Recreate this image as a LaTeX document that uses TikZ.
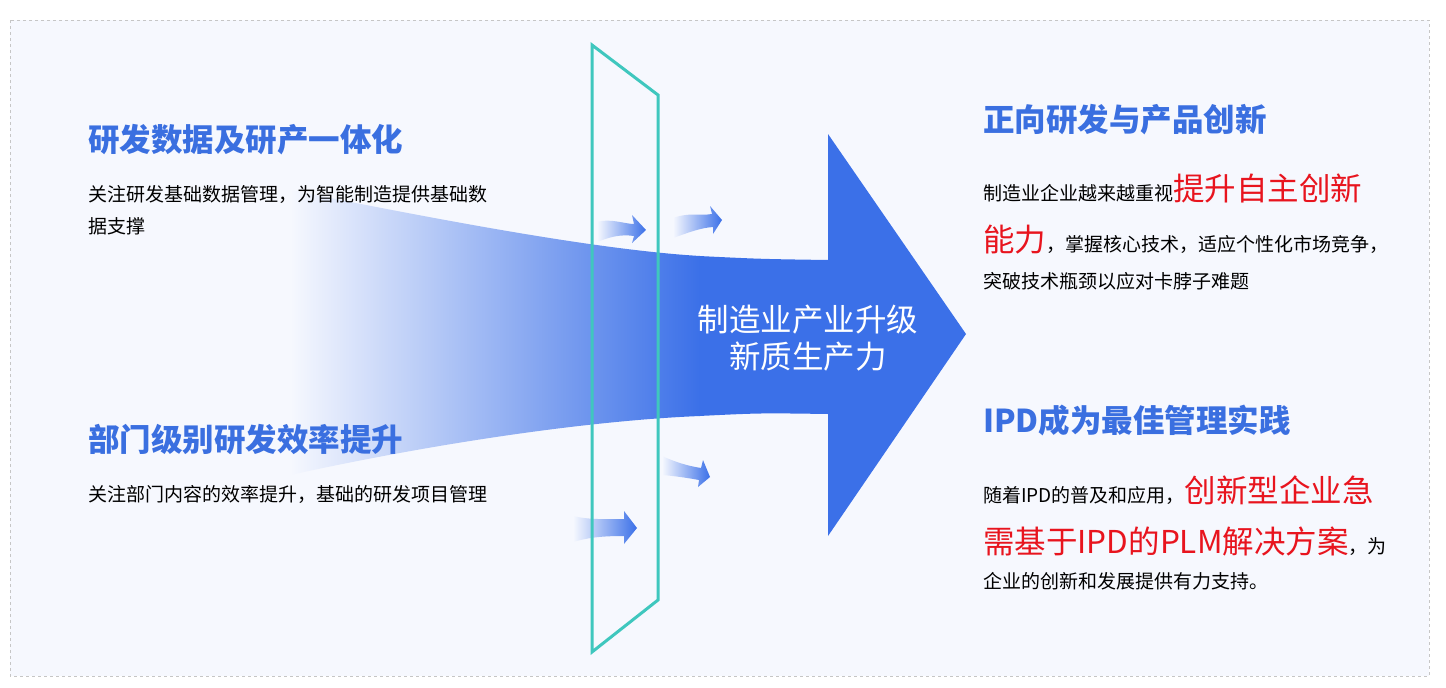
\documentclass[tikz,border=0pt]{standalone}
\usepackage{fontspec}
\setmainfont{Noto Sans CJK SC}
\begin{document}
\definecolor{ablue}{HTML}{3B70E8}
\definecolor{hblue}{HTML}{3A6FE0}
\definecolor{teal}{HTML}{3FC7BE}
\definecolor{tred}{HTML}{E8141E}
\definecolor{bg}{HTML}{F6F8FE}
\begin{tikzpicture}[x=1pt,y=-1pt,
  head/.style={anchor=west,font=\fontsize{31.5}{34}\selectfont\bfseries,text=hblue,inner sep=0},
  body/.style={anchor=west,font=\fontsize{19}{22}\selectfont,inner sep=0},
  small/.style={left color=bg,right color=ablue,draw=none}]
\newcommand\rd[1]{{\color{tred}\fontsize{31.5}{34}\selectfont #1}}
\useasboundingbox (0,0) rectangle (1446,688);
\fill[bg] (10,20) rectangle (1429,676);
\draw[gray!45,dashed,line width=0.8pt] (10,20) rectangle (1429,676);
% band
\shade[left color=bg,right color=ablue] (290,190) .. controls (450,222) and (600,250) .. (700,256) -- (700,416) .. controls (600,420) and (450,440) .. (290,475) -- cycle;
\fill[ablue] (699,256) .. controls (760,259) .. (828,260) -- (828,134) -- (966,334) -- (828,536) -- (828,414) .. controls (760,413) .. (699,416) -- cycle;
\node[text=white,font=\fontsize{31.5}{37}\selectfont,align=center] (c) at (808,338) {制造业产业升级\\新质生产力};
% small arrows
\shade[small] (597,222) .. controls (610,218) and (625,224) .. (634,224) -- (632,215) -- (646,230) -- (632,243) -- (634,236) .. controls (620,234) and (610,237) .. (597,242) -- cycle;
\shade[small] (673,218) .. controls (690,212) and (700,216) .. (712,214) -- (710,206) -- (722,220) -- (713,234) -- (713,227) .. controls (700,228) and (690,232) .. (673,238) -- cycle;
\shade[small] (662,456) .. controls (675,462) and (688,466) .. (701,468) -- (703,460) -- (710,477) -- (698,487) -- (699,480) .. controls (688,478) and (675,476) .. (662,475) -- cycle;
\shade[small] (573,516) .. controls (590,520) and (605,519) .. (624,519) -- (624,511) -- (637,528) -- (624,544) -- (624,536) .. controls (605,536) and (590,537) .. (573,542) -- cycle;
% parallelogram
\draw[teal,line width=3pt,line join=miter] (592,45) -- (658,95) -- (658,600) -- (592,652) -- cycle;
% left texts
\node[head] (h1) at (88,140) {研发数据及研产一体化};
\node[body] (b1) at (88,194) {关注研发基础数据管理，为智能制造提供基础数};
\node[body] (b1b) at (88,226) {据支撑};
\node[head] (h2) at (88,440) {部门级别研发效率提升};
\node[body] (b2) at (88,494) {关注部门内容的效率提升，基础的研发项目管理};
% right texts
\node[head] (h3) at (983,120) {正向研发与产品创新};
\node[body] (r1) at (983,188) {制造业企业越来越重视\rd{提升自主创新}};
\node[body] (r2) at (983,240) {\rd{能力}，掌握核心技术，适应个性化市场竞争，};
\node[body] (r3) at (983,281) {突破技术瓶颈以应对卡脖子难题};
\node[head] (h4) at (983,420) {IPD成为最佳管理实践};
\node[body] (s1) at (983,490) {随着IPD的普及和应用，\rd{创新型企业急}};
\node[body] (s2) at (983,541) {\rd{需基于IPD的PLM解决方案}，为};
\node[body] (s3) at (983,581) {企业的创新和发展提供有力支持。};
\end{tikzpicture}
\end{document}
